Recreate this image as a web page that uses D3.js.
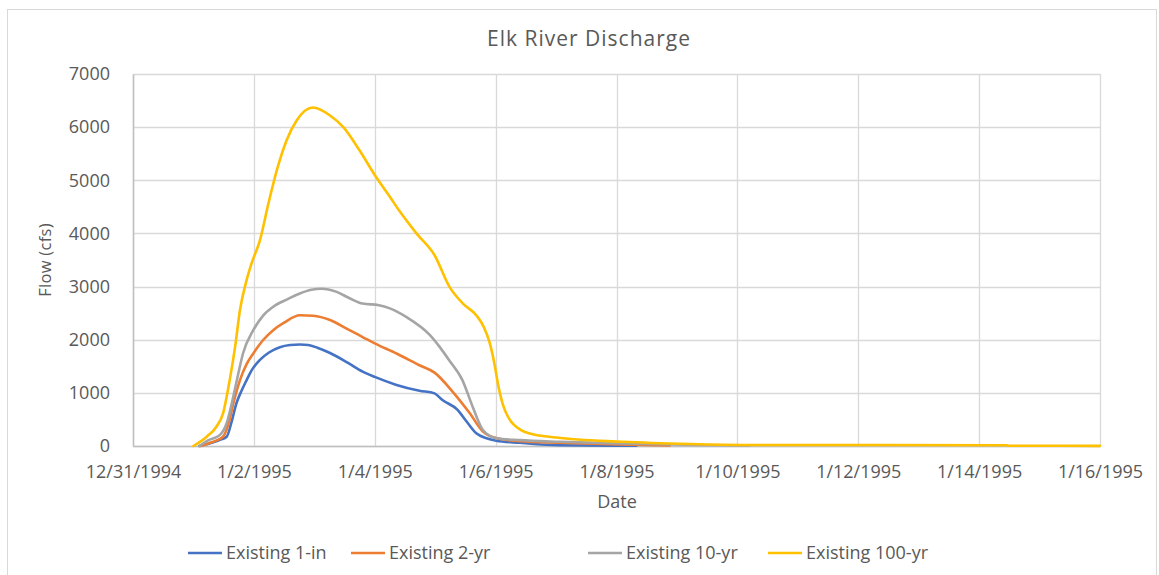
<!DOCTYPE html>
<html><head><meta charset="utf-8">
<script src="https://cdn.jsdelivr.net/npm/d3@7"></script>
<style>
html,body{margin:0;padding:0;background:#fff;}
svg text{font-family:"Open Sans","Noto Sans",sans-serif;fill:#595959;}
</style></head>
<body><svg id="c" width="1159" height="575"></svg>
<script>
// Data (time in days after 12/31/1994 00:00, flow in cfs)
const seriesNames = ["Existing 1-in","Existing 2-yr","Existing 10-yr","Existing 100-yr"];
const seriesColors = ["#4472C4","#ED7D31","#A5A5A5","#FFC000"];

const t1in  = [1.10,1.30,1.45,1.55,1.63,1.71,1.80,1.88,1.96,2.10,2.25,2.43,2.60,2.76,2.90,3.05,3.26,3.55,3.80,4.00,4.36,4.74,4.99,5.12,5.37,5.52,5.68,5.85,6.01,6.40,6.94,8.33];
const q1in  = [0,60,120,175,450,800,1050,1240,1420,1620,1760,1860,1900,1910,1900,1850,1750,1570,1400,1300,1150,1040,990,865,680,460,240,145,100,60,20,5];

const t2yr  = [1.12,1.30,1.49,1.58,1.66,1.77,1.88,1.99,2.15,2.32,2.50,2.76,2.98,3.26,3.55,3.80,4.00,4.36,4.74,4.99,5.29,5.57,5.79,6.01,6.40,7.06,8.05,8.88];
const q2yr  = [0,70,175,420,800,1240,1540,1740,1990,2180,2320,2460,2450,2370,2200,2050,1930,1740,1520,1380,1020,620,270,150,90,60,30,10];

const t10yr = [1.10,1.25,1.44,1.55,1.66,1.74,1.82,1.99,2.15,2.32,2.55,2.76,2.95,3.12,3.37,3.60,3.80,4.07,4.25,4.52,4.91,5.07,5.24,5.45,5.62,5.79,6.01,6.40,7.06,8.05,9.37,10.2];
const q10yr = [0,110,210,430,930,1350,1740,2180,2450,2620,2760,2870,2940,2960,2900,2770,2680,2650,2590,2430,2090,1870,1600,1240,740,300,145,110,80,50,20,10];

const t100yr = [1.00,1.22,1.38,1.49,1.60,1.69,1.77,1.88,1.96,2.10,2.24,2.38,2.54,2.71,2.98,3.26,3.48,3.75,4.00,4.25,4.41,4.69,4.99,5.24,5.46,5.68,5.80,5.90,5.98,6.05,6.12,6.20,6.30,6.42,6.55,7.00,8.10,9.21,10.14,14.45,14.5,16.0];
const q100yr = [0,175,363,615,1240,1870,2560,3120,3430,3870,4560,5190,5750,6130,6370,6220,6000,5560,5100,4690,4420,4000,3590,2990,2680,2460,2250,1950,1550,1100,780,560,400,300,240,160,80,38,20,15,5,3];

const xTickLabels = ["12/31/1994","1/2/1995","1/4/1995","1/6/1995","1/8/1995","1/10/1995","1/12/1995","1/14/1995","1/16/1995"];
const yTicks = [0,1000,2000,3000,4000,5000,6000,7000];

const base = new Date(1994,11,31);
const toDate = t => new Date(base.getTime() + t*86400000);
const series = [[t1in,q1in],[t2yr,q2yr],[t10yr,q10yr],[t100yr,q100yr]].map((s,i)=>({
  name: seriesNames[i], color: seriesColors[i],
  pts: s[0].map((t,j)=>({d: toDate(t), v: s[1][j]}))
}));

const svg = d3.select("#c");
const L=133, R=1100, T=74, B=446;
const x = d3.scaleTime().domain([base, new Date(1995,0,16)]).range([L,R]);
const y = d3.scaleLinear().domain([0,7000]).range([B,T]);

// frame
svg.append("rect").attr("x",7.5).attr("y",9.5).attr("width",1149).attr("height",570)
  .attr("fill","#fff").attr("stroke","#d9d9d9").attr("stroke-width",1);

// title
svg.append("text").attr("x",589).attr("y",46).attr("text-anchor","middle")
  .style("font-size","21px").style("letter-spacing","1px").text("Elk River Discharge");

// gridlines
const xTickDates = xTickLabels.map((s,i)=>toDate(i*2));
svg.append("g").selectAll("line").data(yTicks).join("line")
  .attr("x1",L).attr("x2",R).attr("y1",d=>Math.round(y(d))+0.5).attr("y2",d=>Math.round(y(d))+0.5)
  .attr("stroke","#d9d9d9").attr("stroke-width",1.3);
svg.append("g").selectAll("line").data(xTickDates).join("line")
  .attr("y1",T).attr("y2",B).attr("x1",d=>Math.round(x(d))+0.5).attr("x2",d=>Math.round(x(d))+0.5)
  .attr("stroke","#d9d9d9").attr("stroke-width",1.3);

// axes
const xAxis = d3.axisBottom(x).tickValues(xTickDates).tickFormat((d,i)=>xTickLabels[i]).tickSize(0).tickPadding(19);
const gx = svg.append("g").attr("transform",`translate(0,${B})`).call(xAxis);
gx.select(".domain").attr("stroke","#bfbfbf").attr("stroke-width",1.5);
gx.selectAll("text").style("font-size","18px").attr("fill","#595959");

const yAxis = d3.axisLeft(y).tickValues(yTicks).tickFormat(d3.format("d")).tickSize(0).tickPadding(23);
const gy = svg.append("g").attr("transform",`translate(${L},0)`).call(yAxis);
gy.select(".domain").attr("stroke","#bfbfbf").attr("stroke-width",1.5);
gy.selectAll("text").style("font-size","18px").attr("fill","#595959");

// axis titles
svg.append("text").attr("x",617).attr("y",508).attr("text-anchor","middle").style("font-size","18px").text("Date");
svg.append("text").attr("transform",`translate(51,${(T+B)/2}) rotate(-90)`).attr("text-anchor","middle")
  .style("font-size","16.5px").style("letter-spacing","0.3px").text("Flow (cfs)");

// lines
const line = d3.line().x(d=>x(d.d)).y(d=>y(d.v)).curve(d3.curveMonotoneX);
svg.append("g").selectAll("path").data(series).join("path")
  .attr("d",d=>line(d.pts)).attr("fill","none").attr("stroke",d=>d.color)
  .attr("stroke-width",2.6).attr("stroke-linejoin","round").attr("stroke-linecap","round");

// legend
const legX = [188,351,588,768];
const lg = svg.append("g").selectAll("g").data(series).join("g")
  .attr("transform",(d,i)=>`translate(${legX[i]},553)`);
lg.append("line").attr("x1",0).attr("x2",34).attr("y1",0).attr("y2",0)
  .attr("stroke",d=>d.color).attr("stroke-width",2.6);
lg.append("text").attr("x",38).attr("y",6).style("font-size","18px").text(d=>d.name);
</script></body></html>
